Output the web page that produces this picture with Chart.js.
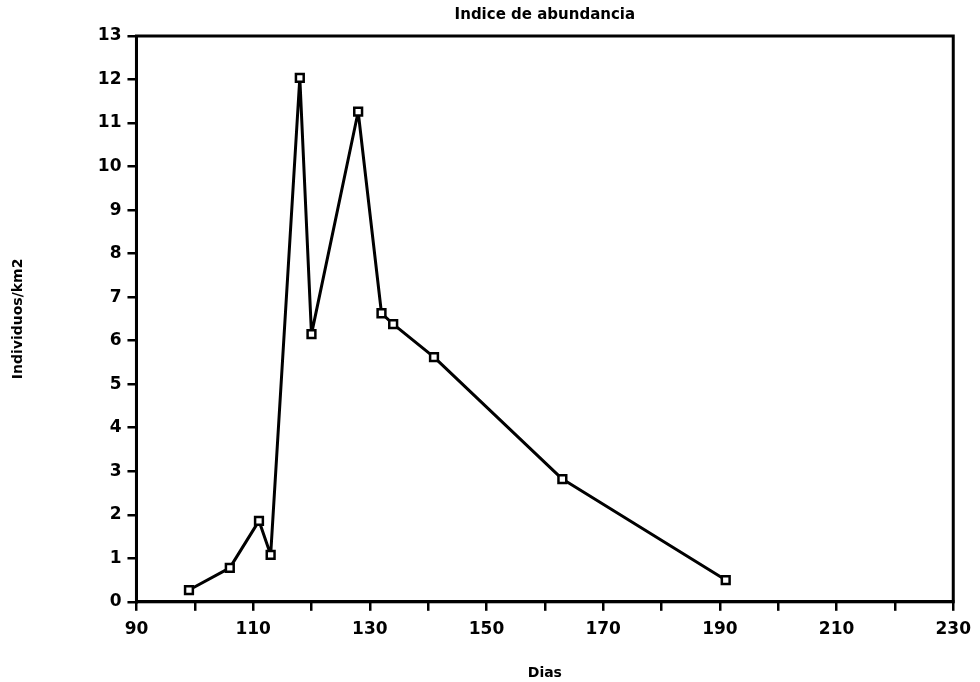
<!DOCTYPE html>
<html>
<head>
<meta charset="utf-8">
<script src="https://cdn.jsdelivr.net/npm/chart.js@4/dist/chart.umd.min.js"></script>
<style>
  html, body { margin: 0; padding: 0; background: #fff; }
  #wrap { width: 980px; height: 682px; }
</style>
</head>
<body>
<div id="wrap"><canvas id="abundancia"></canvas></div>
<script>
"use strict";

var dias = [99, 106, 111, 113, 118, 120, 128, 132, 134, 141, 163, 191];
var individuos = [0.27, 0.78, 1.86, 1.08, 12.04, 6.15, 11.26, 6.63, 6.38, 5.62, 2.82, 0.5];
var xTickLabels = [90, 110, 130, 150, 170, 190, 210, 230];

var fontFamily = "'DejaVu Sans', sans-serif";

// marco completo alrededor del area del grafico
var framePlugin = {
  id: "frame",
  afterDraw: function(chart) {
    var a = chart.chartArea;
    var ctx = chart.ctx;
    ctx.save();
    ctx.strokeStyle = "#000";
    ctx.lineWidth = 3;
    ctx.strokeRect(a.left, a.top, a.right - a.left, a.bottom - a.top);
    ctx.restore();
  }
};

var points = dias.map(function(d, i) {
  return { x: d, y: individuos[i] };
});

new Chart(document.getElementById("abundancia").getContext("2d"), {
  type: "line",
  data: {
    datasets: [
      {
        data: points,
        borderColor: "#000",
        borderWidth: 3,
        borderJoinStyle: "round",
        pointStyle: "rect",
        pointRadius: 5.5,
        pointBorderWidth: 2.5,
        pointBackgroundColor: "#fff",
        pointBorderColor: "#000",
        tension: 0,
        fill: false
      }
    ]
  },
  options: {
    responsive: true,
    maintainAspectRatio: false,
    animation: false,
    layout: { padding: { left: 0, right: 25, top: 0, bottom: 0 } },
    plugins: {
      legend: { display: false },
      tooltip: { enabled: false },
      title: {
        display: true,
        fullSize: false,
        text: "Indice de abundancia",
        color: "#000",
        font: { family: fontFamily, size: 15, weight: "bold" },
        padding: { top: 6, bottom: 12 }
      }
    },
    scales: {
      x: {
        type: "linear",
        min: 90,
        max: 230,
        border: { display: true, color: "#000", width: 3 },
        grid: {
          display: true,
          drawOnChartArea: false,
          drawTicks: true,
          tickLength: 9,
          color: "#000",
          lineWidth: 2.5
        },
        ticks: {
          stepSize: 10,
          color: "#000",
          padding: 9,
          maxRotation: 0,
          font: { family: fontFamily, size: 17, weight: "bold" },
          callback: function(v) {
            return xTickLabels.indexOf(v) >= 0 ? String(v) : "";
          }
        },
        title: {
          display: true,
          text: "Dias",
          color: "#000",
          font: { family: fontFamily, size: 14, weight: "bold" },
          padding: { top: 16, bottom: 0 }
        }
      },
      y: {
        min: 0,
        max: 13,
        border: { display: true, color: "#000", width: 3 },
        grid: {
          display: true,
          drawOnChartArea: false,
          drawTicks: true,
          tickLength: 9,
          color: "#000",
          lineWidth: 2.5
        },
        ticks: {
          stepSize: 1,
          color: "#000",
          padding: 6,
          font: { family: fontFamily, size: 17, weight: "bold" }
        },
        title: {
          display: true,
          text: "Individuos/km2",
          color: "#000",
          font: { family: fontFamily, size: 14, weight: "bold" },
          padding: { top: 10, bottom: 65 }
        }
      }
    }
  },
  plugins: [framePlugin]
});
</script>
</body>
</html>
